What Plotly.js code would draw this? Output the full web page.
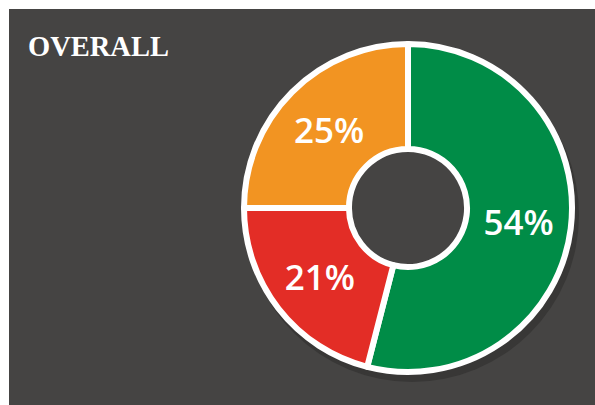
<!DOCTYPE html>
<html>
<head>
<meta charset="utf-8">
<script src="https://cdn.plot.ly/plotly-3.0.1.min.js"></script>
<style>
  html, body { margin: 0; padding: 0; background: #ffffff; width: 595px; height: 405px; overflow: hidden; }
  #chart { position: absolute; left: 9px; top: 9px; width: 586px; height: 396px; }
</style>
</head>
<body>
<div id="chart"></div>
<script>
const chartTitle = "OVERALL";
const categories = ["Green", "Red", "Orange"];
const values = [54, 21, 25];
const labels = ["54%", "21%", "25%"];
const colors = ["#008C47", "#E32D26", "#F29422"];

const W = 586, H = 396;
// pie geometry (div px)
const cx = 399, cy = 199, R = 164, HOLE = 0.36;
const shadow = {dx: 4, dy: 7, r: 167};
const bg = "#454443";

const trace = {
  type: "pie",
  values: values,
  labels: categories,
  text: labels,
  textinfo: "text",
  textposition: "inside",
  insidetextorientation: "horizontal",
  sort: false,
  direction: "clockwise",
  rotation: 0,
  hole: HOLE,
  marker: { colors: colors, line: { color: "#ffffff", width: 6 } },
  insidetextfont: { family: "'Open Sans', sans-serif", size: 35, color: "#ffffff", weight: 600 },
  domain: {
    x: [(cx - R) / W, (cx + R) / W],
    y: [(H - cy - R) / H, (H - cy + R) / H]
  },
  showlegend: false,
  hoverinfo: "none"
};

const hr = R * HOLE;
const layout = {
  width: W,
  height: H,
  margin: { l: 0, r: 0, t: 0, b: 0, pad: 0 },
  paper_bgcolor: bg,
  plot_bgcolor: bg,
  showlegend: false,
  shapes: [{
    type: "circle",
    xref: "paper", yref: "paper",
    x0: (cx + shadow.dx - shadow.r) / W,
    x1: (cx + shadow.dx + shadow.r) / W,
    y0: (H - cy - shadow.dy - shadow.r) / H,
    y1: (H - cy - shadow.dy + shadow.r) / H,
    fillcolor: "#383736",
    line: { width: 0 },
    layer: "below"
  }, {
    type: "circle",
    xref: "paper", yref: "paper",
    x0: (cx - hr) / W,
    x1: (cx + hr) / W,
    y0: (H - cy - hr) / H,
    y1: (H - cy + hr) / H,
    fillcolor: bg,
    line: { width: 0 },
    layer: "below"
  }],
  annotations: [{
    text: chartTitle,
    xref: "paper", yref: "paper",
    x: 17 / W, xanchor: "left",
    y: (H - 38) / H, yanchor: "middle",
    showarrow: false,
    font: { family: "'Liberation Serif', serif", size: 28.5, color: "#ffffff", weight: 700 }
  }]
};

Plotly.newPlot("chart", [trace], layout, { displayModeBar: false, staticPlot: true });
</script>
</body>
</html>
